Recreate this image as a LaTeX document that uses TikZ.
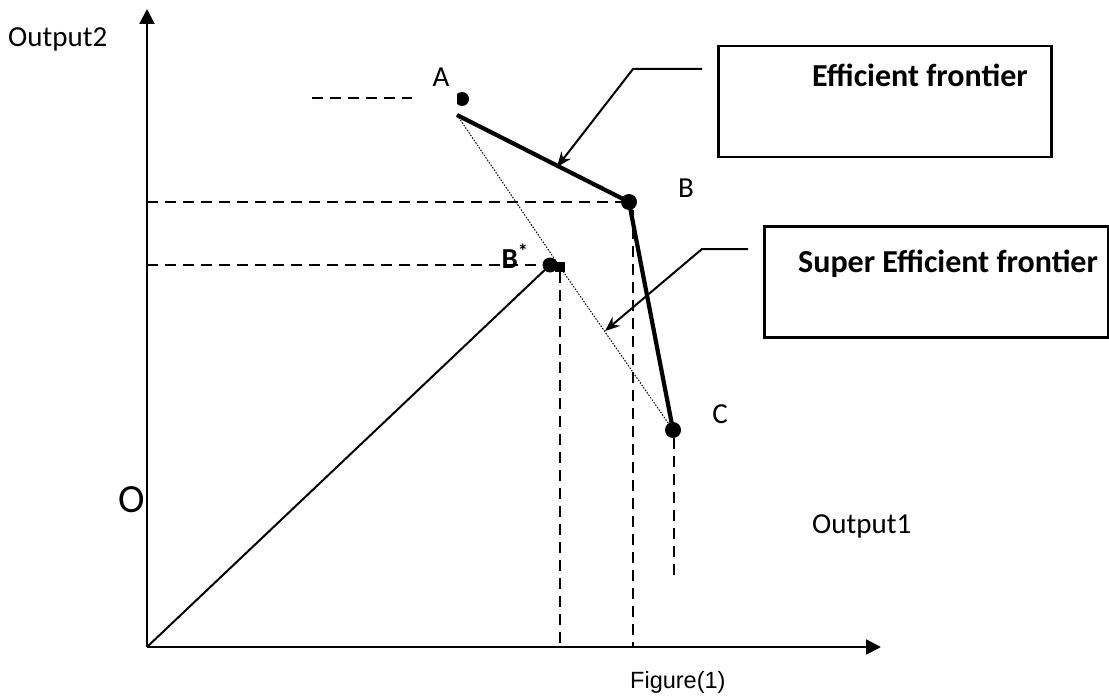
\documentclass[tikz,border=0pt]{standalone}
\usepackage{fontspec}
\setmainfont{Carlito}
\newfontfamily\capfont{Liberation Sans}
\usetikzlibrary{arrows.meta}

\tikzset{
  pt/.style = {circle, fill, inner sep=0pt, minimum size=16pt},
  sqpt/.style = {rectangle, fill, inner sep=0pt, minimum size=10pt},
  lbl/.style = {inner sep=0pt, anchor=base, font=\fontsize{29}{35}\selectfont},
  boxlbl/.style = {inner sep=0pt, anchor=base west, font=\fontsize{32}{38}\selectfont\bfseries},
  frame/.style = {draw, line width=2.5pt, anchor=north west, inner sep=0pt},
  guide/.style = {dash pattern=on 11pt off 7pt, line width=2.4pt},
  frontier/.style = {line width=4.2pt},
  pointer/.style = {line width=2pt, -{Stealth[length=15pt,width=12pt]}},
}

\begin{document}
\begin{tikzpicture}[x=1pt, y=-1pt]
		\useasboundingbox (0,0) rectangle (1109,698);
		% 軸
		\coordinate (O) at (147,647);
		\coordinate (xend) at (881,647);
		\coordinate (yend) at (147,9);
		\draw [line width=2.2pt, -{Triangle[length=15pt,width=15pt]}]
		(O) -- (xend);
		\draw [line width=2.2pt, -{Triangle[length=15pt,width=15pt]}]
		(O) -- (yend);
		\node [lbl, anchor=base west] (ylab) at (8,47) {Output2};
		\node [lbl, anchor=base west] (xlab) at (812,533) {Output1};
		\node [lbl, font=\fontsize{40}{46}\selectfont] (olab) at (132,512) {O};
		\node [inner sep=0pt, anchor=base west, font=\capfont\fontsize{23.5}{28}\selectfont]
		(cap) at (630,688) {Figure(1)};
		% 点 A, B, C, B*
		\coordinate (A) at (457,115);
		\begin{scope}
			\clip (457,88) rectangle (475,111);
			\fill (462,99) circle [radius=7];
		\end{scope}
		\node [pt] (B) at (629,202) {};
		\node [pt] (C) at (673,430) {};
		\node [pt, minimum size=15pt] (Bs) at (550,265) {};
		\node [sqpt] (Bsq) at (560,267) {};
		\node [lbl] (Alab) at (441,87) {A};
		\node [lbl] (Blab) at (686,197) {B};
		\node [lbl] (Clab) at (720,423) {C};
		\node [lbl, font=\fontsize{29}{35}\selectfont\bfseries] (Bslab) at (515,268) {B\textsuperscript{*}};
		% フロンティア
		\draw [frontier] (A) -- (B.center) -- (C.center);
		\draw [line width=1pt, dash pattern=on 1.5pt off 1.5pt]
		(A) -- (Bsq.center) -- (C.center);
		\draw [line width=2pt] (O) -- (Bs.center);
		% 補助線
		\draw [guide] (312,98) -- (412,98);
		\draw [guide] (O |- B) -- (B.center);
		\draw [guide] (O |- Bs) -- (Bs.west);
		\draw [guide] (Bsq.south) -- (Bsq |- O);
		\draw [guide] ([xshift=4pt]B.south) -- ([xshift=4pt]B.center |- O);
		\coordinate (Cend) at (674,576);
		\draw [guide] ([xshift=1pt]C.south) -- (Cend);
		% 説明の枠と矢印
		\node [frame, minimum width=333pt, minimum height=111pt] (effbox) at (717,45) {};
		\node [boxlbl] (efflab) at (812,87) {Efficient frontier};
		\node [frame, minimum width=344pt, minimum height=111pt] (supbox) at (763,225) {};
		\node [boxlbl] (suplab) at (798,272) {Super Efficient frontier};
		\coordinate (effarr) at (702,69);
		\coordinate (efftip) at (557,167);
		\draw [pointer] (effarr) -- ++(-69,0) -- (efftip);
		\coordinate (suparr) at (748,249);
		\coordinate (suptip) at (605,331);
		\draw [pointer] (suparr) -- ++(-46,0) -- (suptip);
	\end{tikzpicture}
\end{document}
